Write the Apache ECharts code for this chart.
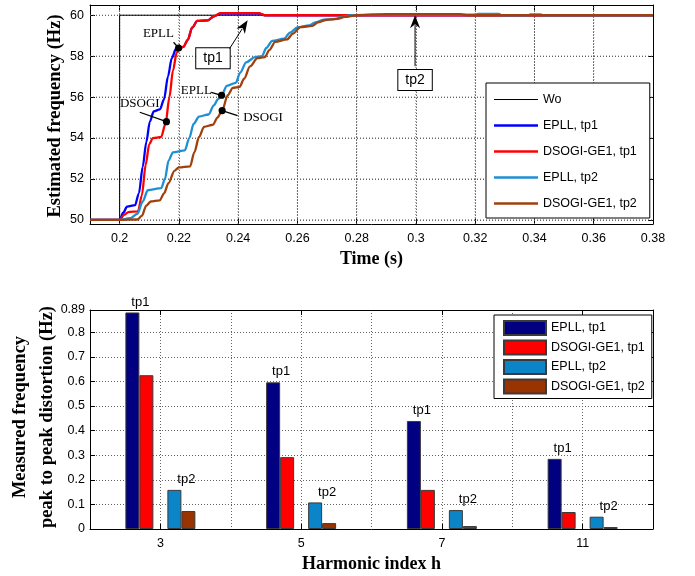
<!DOCTYPE html>
<html><head><meta charset="utf-8">
<script src="https://cdn.jsdelivr.net/npm/echarts@6/dist/echarts.min.js"></script>
<style>html,body{margin:0;padding:0;background:#fff}#c{width:695px;height:576px}</style>
</head><body><div id="c"></div>
<script>
// ---------- top chart data ----------
const timeTicks = [0.2,0.22,0.24,0.26,0.28,0.3,0.32,0.34,0.36,0.38];
const freqTicks = [50,52,54,56,58,60];
const woData = [[0.19,50],[0.2,50],[0.2,60],[0.38,60]];
const epllTp1 = [[0.19,50],[0.2,50],[0.2012,50.35],[0.2025,50.65],[0.2052,50.72],[0.2065,51.3],[0.2078,52.6],[0.2090,53.8],[0.2102,54.8],[0.2115,55.3],[0.2136,55.4],[0.2150,55.9],[0.2163,57.0],[0.2176,57.9],[0.2190,58.35],[0.2215,58.45],[0.2230,58.8],[0.2245,59.4],[0.2262,59.72],[0.2298,59.75],[0.2318,59.95],[0.2340,60.08],[0.2470,60.08],[0.2490,60.0],[0.38,60]];
const dsogiTp1 = [[0.19,50],[0.2,50],[0.2015,50.25],[0.2030,50.38],[0.2062,50.42],[0.2075,51.2],[0.2088,52.7],[0.2100,53.7],[0.2112,54.0],[0.2140,54.05],[0.2155,54.7],[0.2168,56.0],[0.2180,57.3],[0.2193,58.2],[0.2205,58.4],[0.2215,58.45],[0.2230,58.8],[0.2245,59.4],[0.2262,59.72],[0.2298,59.75],[0.2318,59.95],[0.2340,60.1],[0.2470,60.1],[0.2490,60.0],[0.38,60]];
const epllTp2 = [[0.19,50],[0.2,50],[0.2035,50.08],[0.2060,50.3],[0.2078,50.9],[0.2095,51.45],[0.2140,51.55],[0.2153,52.0],[0.2165,52.9],[0.2180,53.3],[0.2220,53.4],[0.2235,54.0],[0.2250,54.7],[0.2268,55.05],[0.2300,55.15],[0.2318,55.6],[0.2332,55.9],[0.2344,56.1],[0.2362,56.55],[0.2392,56.7],[0.2407,57.2],[0.2427,57.7],[0.2457,57.95],[0.2480,58.0],[0.2495,58.4],[0.2515,58.75],[0.2555,58.85],[0.2575,59.15],[0.2600,59.4],[0.2640,59.5],[0.2660,59.65],[0.2690,59.78],[0.2730,59.82],[0.2750,59.92],[0.2780,60.0],[0.2850,60.03],[0.3200,60.03],[0.3210,60.06],[0.3280,60.06],[0.3290,60.0],[0.3380,60.0],[0.3385,60.04],[0.3420,60.04],[0.3430,60.0],[0.38,60]];
const dsogiTp2 = [[0.19,50],[0.2,50],[0.2060,50.02],[0.2075,50.2],[0.2090,50.7],[0.2105,50.9],[0.2135,50.95],[0.2150,51.3],[0.2165,51.8],[0.2185,52.4],[0.2200,52.57],[0.2238,52.62],[0.2252,53.3],[0.2268,54.05],[0.2285,54.55],[0.2315,54.65],[0.2330,55.0],[0.2346,55.35],[0.2365,56.1],[0.2382,56.45],[0.2405,56.5],[0.2420,56.9],[0.2440,57.5],[0.2465,57.9],[0.2490,57.95],[0.2505,58.3],[0.2525,58.7],[0.2565,58.82],[0.2585,59.1],[0.2610,59.42],[0.2650,59.48],[0.2670,59.65],[0.2700,59.78],[0.2735,59.82],[0.2760,59.92],[0.2800,60.0],[0.2900,60.05],[0.3150,60.05],[0.3170,60.0],[0.38,60]];
const lineNames = ['Wo','EPLL, tp1','DSOGI-GE1, tp1','EPLL, tp2','DSOGI-GE1, tp2'];
const timeRange = [0.19, 0.38];
const freqRange = [49.8, 60.5];

// annotations (data coordinates)
const noteTexts = ['EPLL','DSOGI','EPLL','DSOGI'];
const noteTextPos = [[0.2131,59.1],[0.2068,55.67],[0.2259,56.32],[0.2484,55.0]];
const noteLeaderStart = [[0.2182,58.68],[0.2068,55.26],[0.2309,56.23],[0.2398,55.1]];
const noteDots = [[0.2199,58.4],[0.2158,54.8],[0.2344,56.09],[0.2346,55.34]];
const boxTexts = ['tp1','tp2'];
const boxCenters = [[0.2315,57.9],[0.2997,56.84]];
const arrowTails = [[0.2371,58.37],[0.2997,57.51]];
const arrowTips = [[0.2432,59.75],[0.2997,60.0]];

// ---------- bottom chart data ----------
const harmonics = ['3','5','7','11'];
const distTicks = [0,0.1,0.2,0.3,0.4,0.5,0.6,0.7,0.8,0.89];
const epllTp1Bars = [0.88,0.596,0.439,0.285];
const dsogiTp1Bars = [0.625,0.292,0.159,0.069];
const epllTp2Bars = [0.159,0.108,0.077,0.050];
const dsogiTp2Bars = [0.073,0.024,0.012,0.008];
const barNames = ['EPLL, tp1','DSOGI-GE1, tp1','EPLL, tp2','DSOGI-GE1, tp2'];

const SANS = 'Liberation Sans';
const SERIF = 'Liberation Serif';
const gridStyle = {color:'#666', width:1, type:[1,2]};
const gridLine = {show:true, lineStyle:gridStyle};
const blackLine = {show:true, lineStyle:{color:'#000', width:1}};
const lbl = {color:'#000', fontFamily:SANS, fontSize:12.5};
const fmt2 = v => String(+(+v).toFixed(2));
const inList = (list, v) => list.some(t => Math.abs(t - v) < 1e-9);
const timeFmt = v => inList(timeTicks, v) ? fmt2(v) : '';
const freqFmt = v => inList(freqTicks, v) ? fmt2(v) : '';

const chart = echarts.init(document.getElementById('c'), null, {renderer:'canvas'});

const lineColors = ['#000000','#0000ff','#ff0000','#1f8fd4','#a0400c'];
const lineWidths = [1,2.3,2.3,2.3,2.3];
const lineData = [woData, epllTp1, dsogiTp1, epllTp2, dsogiTp2];
const barColors = ['#000080','#ff0000','#0b84c8','#993300'];
const barData = [epllTp1Bars, dsogiTp1Bars, epllTp2Bars, dsogiTp2Bars];

// dotted grid of the top chart drawn through the axes (segments separated by gaps)
const gridSegs = [];
timeTicks.slice(0,-1).forEach(t => { gridSegs.push([t, freqRange[0]], [t, freqRange[1]], null); });
freqTicks.forEach(f => { gridSegs.push([timeRange[0], f], [timeRange[1], f], null); });

const series = [];
series.push({
  type:'line', name:'_grid', xAxisIndex:0, yAxisIndex:0, data: gridSegs,
  showSymbol:false, symbol:'none', connectNulls:false, silent:true, clip:false,
  lineStyle:{color:'#666', width:1, type:[1,2]}, z:4
});
lineData.forEach((d,i) => series.push({
  type:'line', name: lineNames[i], xAxisIndex:0, yAxisIndex:0,
  data: d, showSymbol:false, symbol:'none',
  smooth: i===0 ? false : 0.3, smoothMonotone: 'x',
  lineStyle:{color: lineColors[i], width: lineWidths[i]},
  itemStyle:{color: lineColors[i]}, z: 4
}));

const barSlots = [0,1,null,2,3];
barSlots.forEach(k => {
  if (k === null) {
    series.push({type:'bar', name:'gap', xAxisIndex:2, yAxisIndex:2, barWidth:14, barGap:'0%',
      data: harmonics.map(()=>null), silent:true});
    return;
  }
  const s = {
    type:'bar', name:'bar:'+barNames[k], xAxisIndex:2, yAxisIndex:2,
    data: barData[k], barWidth:14, barGap:'0%',
    itemStyle:{color: barColors[k], borderColor:'#3a3a3a', borderWidth:1},
    z: 4
  };
  if (k === 0 || k === 2) {
    s.label = {show:true, position:'top', distance:4, offset:[k===0?8:12,0],
      formatter: k===0 ? 'tp1' : 'tp2', color:'#000', fontFamily:SANS, fontSize:13};
  }
  series.push(s);
});

const lineIcon = w => 'path://M0,0H44V' + w + 'H0Z';
const tick = {show:true, inside:true, length:5, lineStyle:{color:'#000'}};

const option = {
  animation:false,
  backgroundColor:'#fff',
  grid:[
    {left:90, right:42, top:5, bottom:352},
    {left:90, right:42, top:310, bottom:47}
  ],
  xAxis:[
    {type:'value', gridIndex:0, position:'bottom', min:timeRange[0], max:timeRange[1], splitNumber:10,
     axisLine:blackLine, axisTick:tick,
     axisLabel:Object.assign({formatter:timeFmt, margin:8, showMinLabel:true, showMaxLabel:true}, lbl),
     splitLine:gridLine,
     name:'Time (s)', nameLocation:'middle', nameGap:26,
     nameTextStyle:{fontFamily:SERIF, fontWeight:'bold', fontSize:18, color:'#000'}},
    {type:'value', gridIndex:0, position:'top', min:timeRange[0], max:timeRange[1], splitNumber:10,
     axisLine:blackLine, axisTick:tick, axisLabel:{show:false}, splitLine:{show:false}},
    {type:'category', gridIndex:1, position:'bottom', data:harmonics,
     axisLine:blackLine, axisTick:Object.assign({alignWithLabel:true}, tick),
     axisLabel:Object.assign({margin:8}, lbl), splitLine:{show:false},
     name:'Harmonic index h', nameLocation:'middle', nameGap:26,
     nameTextStyle:{fontFamily:SERIF, fontWeight:'bold', fontSize:18, color:'#000'}},
    {type:'value', gridIndex:1, position:'bottom', min:0, max:8, interval:1,
     axisLine:{show:false}, axisTick:{show:false}, axisLabel:{show:false}, splitLine:gridLine},
    {type:'category', gridIndex:1, position:'top', data:harmonics,
     axisLine:blackLine, axisTick:Object.assign({alignWithLabel:true}, tick),
     axisLabel:{show:false}, splitLine:{show:false}}
  ],
  yAxis:[
    {type:'value', gridIndex:0, position:'left', min:freqRange[0], max:freqRange[1], splitNumber:5,
     axisLine:blackLine, axisTick:tick,
     axisLabel:Object.assign({formatter:freqFmt, margin:6}, lbl),
     splitLine:gridLine},
    {type:'value', gridIndex:0, position:'right', min:freqRange[0], max:freqRange[1], splitNumber:5,
     axisLine:blackLine, axisTick:tick, axisLabel:{show:false}, splitLine:{show:false}},
    {type:'value', gridIndex:1, position:'left', min:0, max:0.89,
     axisLine:blackLine, axisTick:Object.assign({customValues:distTicks}, tick),
     axisLabel:Object.assign({customValues:distTicks, formatter:fmt2, margin:5}, lbl),
     splitLine:gridLine},
    {type:'value', gridIndex:1, position:'right', min:0, max:0.89,
     axisLine:blackLine, axisTick:Object.assign({customValues:distTicks}, tick),
     axisLabel:{show:false}, splitLine:{show:false}}
  ],
  legend:[
    {data: lineNames.map((n,i)=>({name:n, icon: lineIcon(lineWidths[i])})), orient:'vertical', left:486, top:83,
     itemWidth:44, itemHeight:14, itemGap:13, symbolKeepAspect:true,
     padding:[10,13,8,8], borderColor:'#000', borderWidth:1, borderRadius:0, backgroundColor:'#fff',
     textStyle:{color:'#000', fontFamily:SANS, fontSize:12.5}, selectedMode:false, z:10},
    {data: barNames.map(n=>'bar:'+n), orient:'vertical', left:494, top:315, itemWidth:42, itemHeight:14, itemGap:3.5,
     padding:[5,7,4,9], borderColor:'#000', borderWidth:1, borderRadius:0, backgroundColor:'#fff',
     icon:'rect', formatter: n => n.replace('bar:',''),
     textStyle:{color:'#000', fontFamily:SANS, fontSize:12.5}, selectedMode:false, z:10}
  ],
  series: series
};
chart.setOption(option);

// annotations anchored to data coordinates
function px(p){ return chart.convertToPixel({xAxisIndex:0, yAxisIndex:0}, p); }
const g = [];
noteTexts.forEach((t,i) => {
  const c = px(noteTextPos[i]);
  g.push({type:'text', x:c[0], y:c[1], z:40, style:{text:t, fill:'#000', font:'13px "'+SERIF+'"', align:'center', verticalAlign:'middle'}});
  const a = px(noteLeaderStart[i]), b = px(noteDots[i]);
  g.push({type:'line', z:40, shape:{x1:a[0], y1:a[1], x2:b[0], y2:b[1]}, style:{stroke:'#000', lineWidth:1.3}});
  g.push({type:'circle', z:41, shape:{cx:b[0], cy:b[1], r:3.6}, style:{fill:'#000'}});
});
boxTexts.forEach((t,i) => {
  const c = px(boxCenters[i]);
  g.push({type:'text', x:c[0], y:c[1], z:40, style:{text:t, fill:'#000', font:'14px "'+SANS+'"', align:'center', verticalAlign:'middle',
    backgroundColor:'#fff', borderColor:'#000', borderWidth:1, padding:[3,7,3,7]}});
  const a = px(arrowTails[i]), b = px(arrowTips[i]);
  const dx = b[0]-a[0], dy = b[1]-a[1], L = Math.hypot(dx,dy), ux = dx/L, uy = dy/L;
  const hl = 13, hw = 5;
  const bx = b[0]-ux*hl, by = b[1]-uy*hl;
  g.push({type:'line', z:40, shape:{x1:a[0], y1:a[1], x2:bx+ux*3, y2:by+uy*3}, style:{stroke:'#000', lineWidth:1}});
  g.push({type:'polygon', z:40, shape:{points:[[b[0],b[1]],[bx - uy*hw, by + ux*hw],[b[0]-ux*hl*0.7, b[1]-uy*hl*0.7],[bx + uy*hw, by - ux*hw]]}, style:{fill:'#000'}});
});
// axis titles
g.push({type:'text', x:55, y:116, rotation:Math.PI/2, z:5,
  style:{text:'Estimated frequency (Hz)', fill:'#000', font:'bold 18.5px "'+SERIF+'"', align:'center', verticalAlign:'middle'}});
g.push({type:'text', x:33.5, y:417, rotation:Math.PI/2, z:5,
  style:{text:'Measured frequency\npeak to peak distortion (Hz)', fill:'#000', font:'bold 18.5px "'+SERIF+'"',
    align:'center', verticalAlign:'middle', lineHeight:27}});
chart.setOption({graphic: g});
</script>
</body></html>
